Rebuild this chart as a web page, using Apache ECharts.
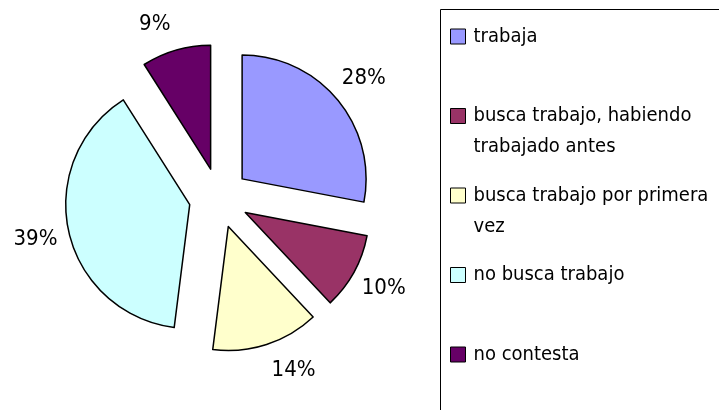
<!DOCTYPE html>
<html>
<head>
<meta charset="utf-8">
<script src="https://cdn.jsdelivr.net/npm/echarts@6/dist/echarts.min.js"></script>
<style>
  html, body { margin: 0; padding: 0; background: #fff; }
  #chart { width: 719px; height: 410px; }
</style>
</head>
<body>
<div id="chart"></div>
<script>
// datos
const categories = [
  "trabaja",
  "busca trabajo, habiendo trabajado antes",
  "busca trabajo por primera vez",
  "no busca trabajo",
  "no contesta",
]
const values = [28, 10, 14, 39, 9]
const colors = ["#9999FF", "#993366", "#FFFFCC", "#CCFFFF", "#660066"]
// texto de la leyenda con salto de línea
const legendText = {
  "busca trabajo, habiendo trabajado antes": "busca trabajo, habiendo\ntrabajado antes",
  "busca trabajo por primera vez": "busca trabajo por primera\nvez",
}

const font = "'Liberation Sans Narrow', 'DejaVu Sans Condensed', Arial, sans-serif"
const labelSize = 22
const lineH = 31
const legendY0 = 36.5
const legendStep = 79.5

// ancho de un texto, para correr las etiquetas de arriba/abajo hacia el costado
const ctx = document.createElement("canvas").getContext("2d")
ctx.font = labelSize + "px " + font
const textW = (s) => ctx.measureText(s).width

const total = values.reduce((a, b) => a + b, 0)
let acc = 0
const pieData = categories.map((name, i) => ({ name, value: values[i], selected: true }))
const labelData = categories.map((name, i) => {
  const mid = ((acc + values[i] / 2) / total) * 2 * Math.PI
  acc += values[i]
  const dx = Math.sin(mid)
  const dy = -Math.cos(mid)
  const item = { name, value: values[i], selected: true }
  if (Math.abs(dx) < 0.5) {
    // etiqueta casi vertical: se corre hacia el costado y hacia el centro
    const w = textW(values[i] + "%") * 0.75
    item.label = {
      formatter: dy < 0 ? "\n{c}%" : "{c}%\n",
      lineHeight: 13,
      padding: [0, dx < 0 ? w : 0, 0, dx > 0 ? w : 0],
    }
  }
  return item
})

const legends = categories.map((name, i) => {
  const wrapped = !!legendText[name]
  return {
    data: [name],
    orient: "vertical",
    left: 450,
    top: legendY0 + i * legendStep - (wrapped ? 1.5 : 0.5) * lineH,
    padding: 0,
    itemGap: 0,
    itemWidth: 15,
    itemHeight: 15,
    icon: "rect",
    selectedMode: false,
    itemStyle: { borderColor: "#000", borderWidth: 1 },
    // línea vacía arriba para que la primera línea quede a la altura del cuadrito
    formatter: (n) => (legendText[n] ? "\n" + legendText[n] : n),
    textStyle: {
      fontFamily: font,
      fontSize: 20,
      color: "#000",
      lineHeight: lineH,
      padding: [0, 0, 0, 3],
    },
  }
})

const chart = echarts.init(document.getElementById("chart"))
chart.setOption({
  animation: false,
  color: colors,
  legend: legends,
  graphic: [
    {
      type: "rect",
      shape: { x: 440.5, y: 9.5, width: 400, height: 500 },
      style: { fill: "none", stroke: "#000", lineWidth: 1 },
      silent: true,
    },
  ],
  series: [
    {
      name: "pie",
      type: "pie",
      center: [219, 198],
      radius: [0, 124],
      startAngle: 90,
      clockwise: true,
      selectedMode: "multiple",
      selectedOffset: 30,
      avoidLabelOverlap: false,
      label: { show: false },
      labelLine: { show: false },
      emphasis: { disabled: true },
      itemStyle: { borderColor: "#000", borderWidth: 1.5 },
      data: pieData,
    },
    {
      // solo etiquetas de porcentaje
      name: "labels",
      type: "pie",
      center: [219, 198],
      radius: [100, 210],
      startAngle: 90,
      clockwise: true,
      selectedMode: "multiple",
      selectedOffset: 30,
      silent: true,
      avoidLabelOverlap: false,
      itemStyle: { color: "transparent", borderWidth: 0 },
      label: {
        show: true,
        position: "inside",
        formatter: "{c}%",
        fontFamily: font,
        fontSize: labelSize,
        color: "#000",
      },
      labelLine: { show: false },
      emphasis: { disabled: true },
      data: labelData,
    },
  ],
})
</script>
</body>
</html>
